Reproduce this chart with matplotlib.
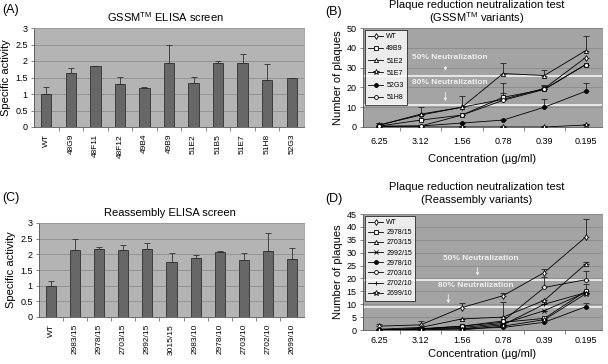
import numpy as np
import matplotlib
matplotlib.use('Agg')
import matplotlib.pyplot as plt

plt.rcParams['font.family'] = ['Liberation Sans', 'DejaVu Sans']
plt.rcParams['mathtext.fontset'] = 'custom'
plt.rcParams['mathtext.rm'] = 'Liberation Sans'

# ---- panel A : GSSM ELISA screen
gssm_names = ['WT', '48G9', '48F11', '48F12', '49B4', '49B9', '51E2', '51B5', '51E7', '51H8', '52G3']
gssm_act = [1.0, 1.64, 1.84, 1.30, 1.17, 1.93, 1.33, 1.93, 1.93, 1.41, 1.48]
gssm_err = [0.2, 0.16, 0.01, 0.22, 0.03, 0.54, 0.20, 0.08, 0.29, 0.49, 0.0]

# ---- panel C : reassembly ELISA screen
reas_names = ['WT', '2983/15', '2978/15', '2703/15', '2992/15', '3015/15', '2983/10', '2978/10',
              '2703/10', '2702/10', '2699/10']
reas_act = [1.0, 2.14, 2.17, 2.14, 2.17, 1.76, 1.88, 2.06, 1.82, 2.11, 1.84]
reas_err = [0.15, 0.34, 0.06, 0.16, 0.19, 0.28, 0.10, 0.06, 0.22, 0.57, 0.36]

# ---- panel B : plaque reduction, GSSM variants
conc = ['6.25', '3.12', '1.56', '0.78', '0.39', '0.195']
gssm_series = ['WT', '49B9', '51E2', '51E7', '52G3', '51H8']
gssm_plaques = [
    [1.0, 6.0, 10.0, 14.0, 19.5, 35.0],
    [0.5, 3.5, 6.0, 15.0, 19.0, 31.5],
    [1.0, 6.5, 10.0, 27.0, 26.0, 38.5],
    [0.0, 0.0, 0.0, 0.0, 0.0, 1.0],
    [0.2, 0.5, 2.0, 3.5, 10.0, 18.0],
    [0.5, 0.5, 6.0, 13.5, 19.0, 31.5],
]
gssm_plaque_err = [
    [1.0, 0.0, 0.0, 8.0, 1.5, 0.0],
    [0.5, 0.0, 0.0, 2.0, 1.5, 0.0],
    [1.0, 3.5, 5.5, 5.3, 3.0, 7.5],
    [0, 0, 0, 0, 0, 0],
    [0.0, 0.0, 0.0, 0.0, 4.3, 4.3],
    [0, 0, 0, 0, 0, 0],
]
gssm_neut50 = 26
gssm_neut80 = 11

# ---- panel D : plaque reduction, reassembly variants
reas_series = ['WT', '2978/15', '2703/15', '2992/15', '2978/10', '2703/10', '2702/10', '2699/10']
reas_plaques = [
    [1.5, 2.0, 8.7, 13.3, 22.3, 36.0],
    [0.0, 0.3, 1.5, 3.0, 4.5, 15.0],
    [0.3, 1.0, 4.3, 5.0, 11.5, 25.5],
    [0.0, 0.5, 1.0, 2.5, 7.5, 14.5],
    [0.0, 0.0, 0.5, 1.0, 3.0, 9.0],
    [0.0, 0.5, 1.5, 3.5, 16.5, 19.5],
    [0.0, 0.5, 0.5, 2.0, 10.0, 14.5],
    [0.0, 0.0, 0.0, 1.5, 4.0, 14.0],
]
reas_plaque_err = [
    [0.7, 1.5, 1.9, 1.2, 1.4, 7.0],
    [0, 0, 0, 0, 0, 3.0],
    [0, 0, 0, 0, 0, 1.0],
    [0, 0, 0, 0, 0, 0],
    [0, 0, 0, 0, 0, 1.5],
    [0.0, 0.0, 0.0, 7.5, 4.0, 3.5],
    [0, 0, 0, 0, 0, 0],
    [0, 0, 0, 0, 0, 0],
]
reas_neut50 = 19.5
reas_neut80 = 9

W, H = 608, 364
fig = plt.figure(figsize=(W / 100, H / 100), dpi=100)


def px_axes(l, t, r, b):  # axes from pixel box (top-left origin)
    return fig.add_axes([l / W, 1 - b / H, (r - l) / W, (b - t) / H])


def bar_panel(ax, names, vals, errs):
    x = np.arange(len(names))
    ax.set_facecolor('#b4b4b4')
    ax.bar(x, vals, width=0.42, color='#676767', edgecolor='#303030', linewidth=0.6, zorder=3)
    ax.errorbar(x, vals, yerr=[np.zeros(len(errs)), errs], fmt='none', ecolor='#303030',
                elinewidth=0.6, capsize=2.2, capthick=0.6, zorder=4)
    ax.set_xlim(-0.5, len(names) - 0.5)
    ax.set_ylim(0, 3)
    ax.set_yticks(np.arange(0, 3.01, 0.5))
    ax.set_yticklabels(['0', '0.5', '1', '1.5', '2', '2.5', '3'])
    ax.set_xticks(x)
    ax.set_xticklabels(names, rotation=90)
    ax.set_xticks(np.arange(0.5, len(names) - 0.5), minor=True)
    ax.tick_params(axis='x', which='major', length=0, labelsize=6, pad=5)
    ax.tick_params(axis='x', which='minor', length=3, width=0.5, color='#555')
    ax.tick_params(axis='y', length=2.5, width=0.5, labelsize=6.5, pad=2, color='#555')
    ax.grid(axis='y', color='#8e8e8e', linewidth=0.6, zorder=0)
    for s in ['top', 'right']:
        ax.spines[s].set_color('#9a9a9a')
        ax.spines[s].set_linewidth(0.6)
    for s in ['left', 'bottom']:
        ax.spines[s].set_color('#555555')
        ax.spines[s].set_linewidth(0.6)
    ax.set_ylabel('Specific activity', fontsize=8, labelpad=3)


markers = {'WT': dict(marker='d', ms=3.0, mfc='white'),
           'sq': dict(marker='s', ms=2.8, mfc='white'),
           'tri': dict(marker='^', ms=3.0, mfc='white'),
           'star': dict(marker='*', ms=4.0, mfc='white'),
           'fill': dict(marker='o', ms=2.8, mfc='black'),
           'open': dict(marker='o', ms=2.8, mfc='white'),
           'x': dict(marker='x', ms=3.0, mfc='white'),
           'plus': dict(marker='+', ms=3.5, mfc='white')}


def line_panel(ax, names, data, errs, styles, ymax, ystep, n50, n80, ann, lspace, tpad, lpad):
    x = np.arange(len(conc))
    ax.set_facecolor('#a4a4a4')
    ax.set_xlim(-0.4, len(conc) - 0.6)
    ax.set_ylim(0, ymax)
    ax.set_yticks(np.arange(0, ymax + 0.1, ystep))
    ax.grid(axis='y', color='#8a8a8a', linewidth=0.6, zorder=0)
    ax.axhline(n50, color='#e8e8e8', lw=1.4, zorder=1)
    ax.axhline(n80, color='#e8e8e8', lw=1.4, zorder=1)
    for nm, y, e, st in zip(names, data, errs, styles):
        ax.errorbar(x, y, yerr=[np.zeros(len(e)), e], fmt='none', ecolor='#202020',
                    elinewidth=0.6, capsize=2.5, capthick=0.6, zorder=3)
        ax.plot(x, y, color='black', lw=0.6, mec='black', mew=0.6, label=nm, zorder=4,
                **markers[st])
    ax.set_xticks(x)
    ax.set_xticklabels(conc)
    ax.set_xticks(np.arange(0.5, len(conc) - 1), minor=True)
    ax.tick_params(axis='x', which='major', length=0, labelsize=6.5, pad=tpad)
    ax.tick_params(axis='x', which='minor', length=3, width=0.5, color='#555')
    ax.tick_params(axis='y', length=2.5, width=0.5, labelsize=6.5, pad=2, color='#555')
    for s in ['top', 'right']:
        ax.spines[s].set_color('#8a8a8a')
        ax.spines[s].set_linewidth(0.6)
    for s in ['left', 'bottom']:
        ax.spines[s].set_color('#555555')
        ax.spines[s].set_linewidth(0.6)
    ax.set_ylabel('Number of plaques', fontsize=8, labelpad=3)
    ax.set_xlabel('Concentration (\u00b5g/ml)', fontsize=8, labelpad=lpad)
    leg = ax.legend(loc='upper left', fontsize=5, frameon=True, fancybox=False, edgecolor='black',
                    borderaxespad=0.25, handlelength=2.2, handletextpad=0.4, labelspacing=lspace,
                    borderpad=0.5)
    leg.get_frame().set_linewidth(0.6)
    leg.set_zorder(6)
    # 50% / 80% labels with little arrows
    (t50x, t50y, a50x, a50y0, a50y1), (t80x, t80y, a80x, a80y0, a80y1) = ann
    ax.text(t50x, t50y, '50% Neutralization', color='#f0f0f0', fontsize=6, fontweight='bold',
            ha='center', va='center', zorder=5)
    ax.text(t80x, t80y, '80% Neutralization', color='#f0f0f0', fontsize=6, fontweight='bold',
            ha='center', va='center', zorder=5)
    ax.annotate('', xy=(a50x, a50y1), xytext=(a50x, a50y0),
                arrowprops=dict(arrowstyle='-|>', color='#f0f0f0', lw=0.6, mutation_scale=4))
    ax.annotate('', xy=(a80x, a80y1), xytext=(a80x, a80y0),
                arrowprops=dict(arrowstyle='-|>', color='#f0f0f0', lw=0.6, mutation_scale=4))


# A
axA = px_axes(34, 28, 304, 127)
bar_panel(axA, gssm_names, gssm_act, gssm_err)
fig.text(165 / W, 1 - 17 / H, 'GSSM$^{\\mathrm{TM}}$ ELISA screen', ha='center', va='center', fontsize=8)
fig.text(2 / W, 1 - 10 / H, '(A)', ha='left', va='center', fontsize=9)

# C
axC = px_axes(39, 223, 304, 317)
bar_panel(axC, reas_names, reas_act, reas_err)
fig.text(170 / W, 1 - 213 / H, 'Reassembly ELISA screen', ha='center', va='center', fontsize=8)
fig.text(2 / W, 1 - 198 / H, '(C)', ha='left', va='center', fontsize=9)

# B
axB = px_axes(363, 28, 602, 127)
line_panel(axB, gssm_series, gssm_plaques, gssm_plaque_err,
           ['WT', 'sq', 'tri', 'star', 'fill', 'open'], 50, 10, gssm_neut50, gssm_neut80,
           [(1.7, 35.2, 1.6, 32.0, 27.0), (1.7, 22.5, 1.6, 19.0, 11.6)], 0.75, 7, 6)
fig.text(477 / W, 1 - 5 / H, 'Plaque reduction neutralization test', ha='center', va='center', fontsize=8)
fig.text(477 / W, 1 - 18 / H, '(GSSM$^{\\mathrm{TM}}$ variants)', ha='center', va='center', fontsize=8)
fig.text(325 / W, 1 - 12 / H, '(B)', ha='left', va='center', fontsize=9)

# D
axD = px_axes(363, 214, 602, 330)
line_panel(axD, reas_series, reas_plaques, reas_plaque_err,
           ['WT', 'sq', 'tri', 'x', 'fill', 'open', 'plus', 'star'], 45, 5, reas_neut50, reas_neut80,
           [(2.45, 27.6, 2.38, 25.3, 20.0), (2.33, 17.1, 1.67, 14.8, 9.3)], 0.45, 4, 3)
fig.text(477 / W, 1 - 187 / H, 'Plaque reduction neutralization test', ha='center', va='center', fontsize=8)
fig.text(477 / W, 1 - 200 / H, '(Reassembly variants)', ha='center', va='center', fontsize=8)
fig.text(325 / W, 1 - 199 / H, '(D)', ha='left', va='center', fontsize=9)

fig.savefig('out.png', dpi=100)
